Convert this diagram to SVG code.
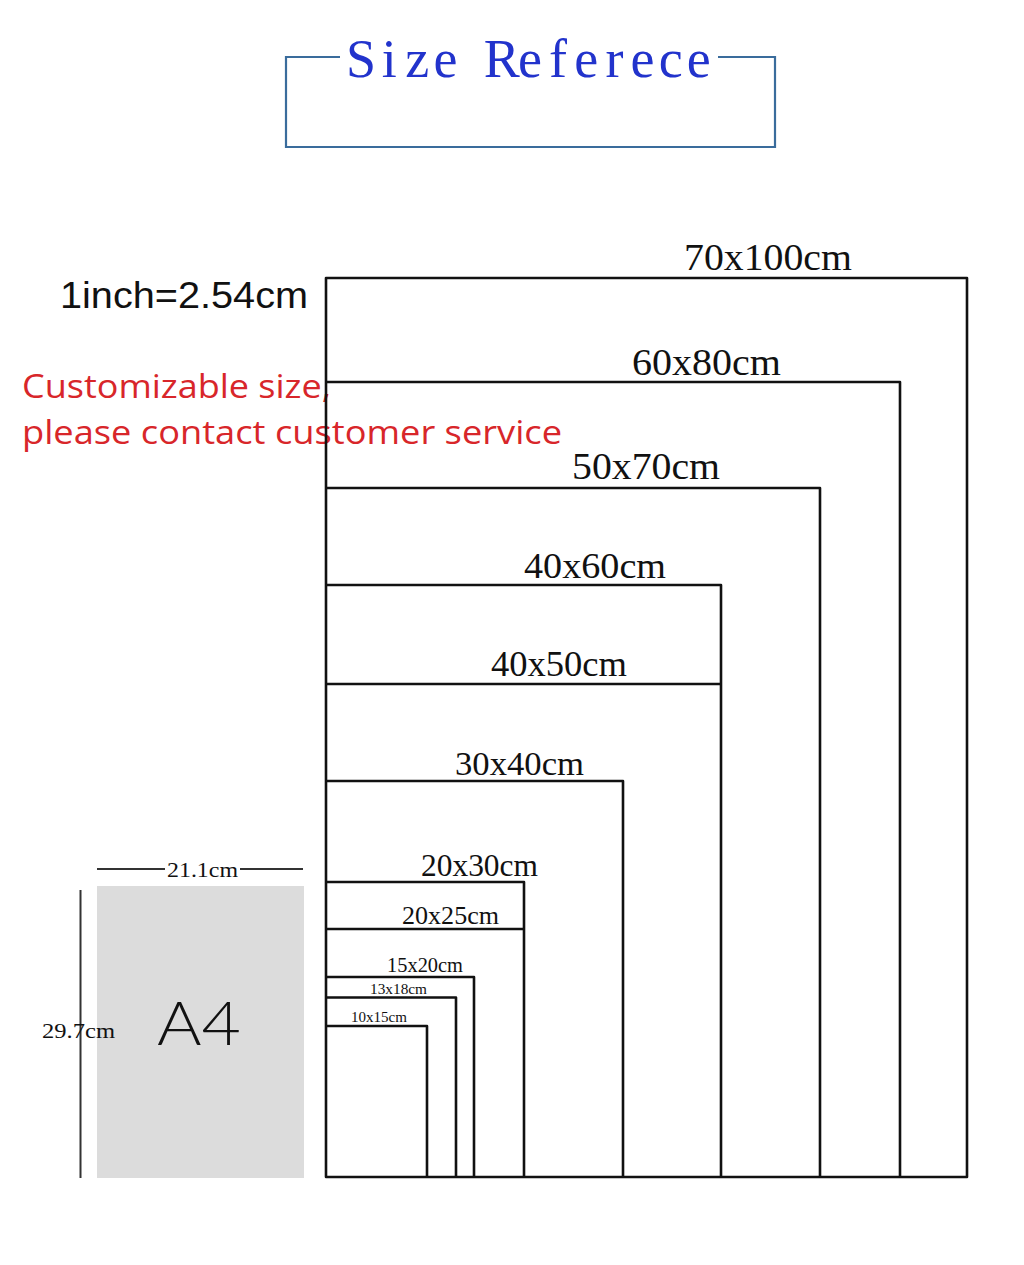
<svg xmlns="http://www.w3.org/2000/svg" width="1024" height="1265" viewBox="0 0 1024 1265">
<style>
.frame{fill:none;stroke:#111;stroke-width:2.6;stroke-linejoin:round}
.lbl{font-family:"Liberation Serif","Times New Roman",serif;fill:#111}
.dim{stroke:#333;stroke-width:2;fill:none}
.red{font-family:"Open Sans","Noto Sans",sans-serif;fill:#d8262a;font-size:33px}
</style>
<rect width="1024" height="1265" fill="#fff"/>
<g id="title">
<path d="M340 57 H286 V147 H775 V57 H718" fill="none" stroke="#3a6c9c" stroke-width="2.2"/>
<text x="361 389.2 417.3 445.5 473.6 501.8 529.9 558.1 586.2 614.4 642.5 670.7 698.8" y="77" text-anchor="middle" font-family="Liberation Serif, Times New Roman, serif" font-size="54" fill="#2233cc">Size Referece</text>
</g>
<g id="note">
<text x="60" y="308" font-family="Liberation Sans, Arial, sans-serif" font-size="36" fill="#111" textLength="248" lengthAdjust="spacingAndGlyphs">1inch=2.54cm</text>
<text class="red" x="22" y="398" textLength="309" lengthAdjust="spacingAndGlyphs">Customizable size,</text>
<text class="red" x="22" y="444" textLength="540" lengthAdjust="spacingAndGlyphs">please contact customer service</text>
</g>
<g id="a4">
<rect x="97" y="886" width="207" height="292" fill="#dcdcdc"/>
<text x="157" y="1045" font-family="Lato, DejaVu Sans, sans-serif" font-weight="300" font-size="62" fill="#111" textLength="84" lengthAdjust="spacingAndGlyphs">A4</text>
</g>
<g id="dimensions">
<path class="dim" d="M97 869 H165 M240 869 H303"/>
<path class="dim" d="M80.5 890 V1178"/>
<text class="lbl" x="167" y="877" font-size="22" textLength="71" lengthAdjust="spacingAndGlyphs">21.1cm</text>
<text class="lbl" x="42" y="1038" font-size="22" textLength="73" lengthAdjust="spacingAndGlyphs">29.7cm</text>
</g>
<g id="s70x100"><path class="frame" d="M326 1177 V278 H967 V1177 Z"/><text class="lbl" x="684" y="270" font-size="38" textLength="168" lengthAdjust="spacingAndGlyphs">70x100cm</text></g>
<g id="s60x80"><path class="frame" d="M326 382 H900 V1177"/><text class="lbl" x="632" y="375" font-size="38" textLength="149" lengthAdjust="spacingAndGlyphs">60x80cm</text></g>
<g id="s50x70"><path class="frame" d="M326 488 H820 V1177"/><text class="lbl" x="572" y="479" font-size="38" textLength="148" lengthAdjust="spacingAndGlyphs">50x70cm</text></g>
<g id="s40x60"><path class="frame" d="M326 585 H721 V1177"/><text class="lbl" x="524" y="578" font-size="36" textLength="142" lengthAdjust="spacingAndGlyphs">40x60cm</text></g>
<g id="s40x50"><path class="frame" d="M326 684 H721"/><text class="lbl" x="491" y="676" font-size="35" textLength="136" lengthAdjust="spacingAndGlyphs">40x50cm</text></g>
<g id="s30x40"><path class="frame" d="M326 781 H623 V1177"/><text class="lbl" x="455" y="775" font-size="34" textLength="129" lengthAdjust="spacingAndGlyphs">30x40cm</text></g>
<g id="s20x30"><path class="frame" d="M326 882 H524 V1177"/><text class="lbl" x="421" y="876" font-size="31" textLength="117" lengthAdjust="spacingAndGlyphs">20x30cm</text></g>
<g id="s20x25"><path class="frame" d="M326 929 H524"/><text class="lbl" x="402" y="924" font-size="26" textLength="97" lengthAdjust="spacingAndGlyphs">20x25cm</text></g>
<g id="s15x20"><path class="frame" d="M326 977 H474 V1177"/><text class="lbl" x="387" y="972" font-size="20" textLength="76" lengthAdjust="spacingAndGlyphs">15x20cm</text></g>
<g id="s13x18"><path class="frame" d="M326 997.5 H456 V1177"/><text class="lbl" x="370" y="994" font-size="15" textLength="57" lengthAdjust="spacingAndGlyphs">13x18cm</text></g>
<g id="s10x15"><path class="frame" d="M326 1026 H427 V1177"/><text class="lbl" x="351" y="1022" font-size="15" textLength="56" lengthAdjust="spacingAndGlyphs">10x15cm</text></g>
</svg>
